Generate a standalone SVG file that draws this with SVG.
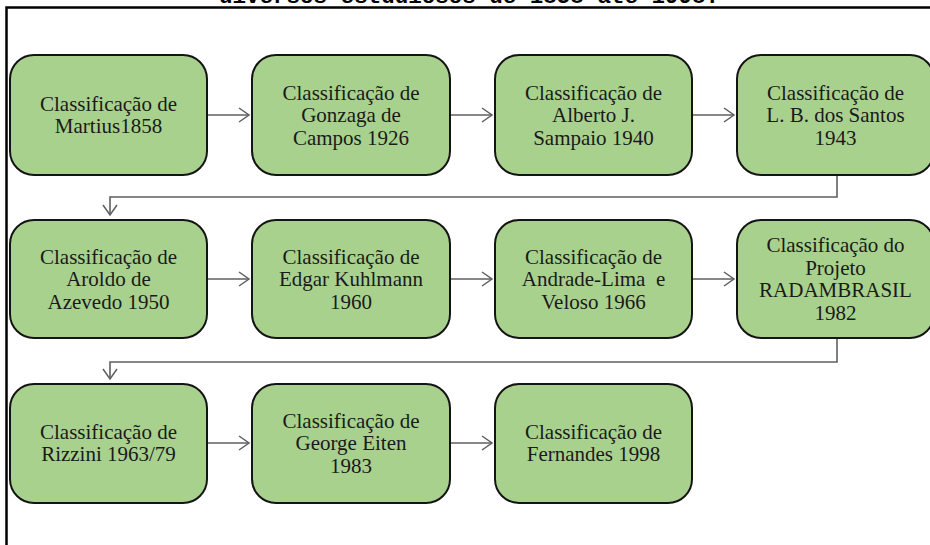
<svg xmlns="http://www.w3.org/2000/svg" width="930" height="545" viewBox="0 0 930 545">
<style>
.box{fill:#A9D18E;stroke:#141414;stroke-width:2}
.lbl{font-family:"Liberation Serif","Times New Roman",serif;font-size:21px;fill:#1a1a1a;text-anchor:middle}
.con{fill:none;stroke:#5f5f5f;stroke-width:1.6}
.title{font-family:"Liberation Mono","Courier New",monospace;font-weight:bold;font-size:22.5px;fill:#000}
</style>
<defs>
<marker id="ah" markerUnits="userSpaceOnUse" markerWidth="14" markerHeight="18" refX="11" refY="8" orient="auto" viewBox="0 0 14 16">
<path d="M1,1 L11,8 L1,15" fill="none" stroke="#5f5f5f" stroke-width="1.5"/>
</marker>
</defs>
<rect width="930" height="545" fill="#fff"/>
<text class="title" x="219" y="2.5" textLength="500">diversos estudiosos de 1858 até 1998.</text>
<path d="M6.5,545 V7.5 H930" fill="none" stroke="#000" stroke-width="2.5"/>

<g id="connectors">
<line class="con" x1="207" y1="115" x2="249" y2="115" marker-end="url(#ah)"/>
<line class="con" x1="450" y1="115" x2="492" y2="115" marker-end="url(#ah)"/>
<line class="con" x1="692" y1="115" x2="734" y2="115" marker-end="url(#ah)"/>
<path class="con" d="M837,175 V197 H110 V215" marker-end="url(#ah)"/>
<line class="con" x1="207" y1="279" x2="249" y2="279" marker-end="url(#ah)"/>
<line class="con" x1="450" y1="279" x2="492" y2="279" marker-end="url(#ah)"/>
<line class="con" x1="692" y1="279" x2="734" y2="279" marker-end="url(#ah)"/>
<path class="con" d="M837,338 V362 H110 V379" marker-end="url(#ah)"/>
<line class="con" x1="207" y1="443" x2="249" y2="443" marker-end="url(#ah)"/>
<line class="con" x1="450" y1="443" x2="492" y2="443" marker-end="url(#ah)"/>
</g>

<g id="n1"><rect class="box" x="10" y="55" width="197" height="120" rx="24"/>
<text class="lbl" x="108.5" y="110.5">Classificação de</text><text class="lbl" x="108.5" y="133">Martius1858</text></g>
<g id="n2"><rect class="box" x="252" y="55" width="198" height="120" rx="24"/>
<text class="lbl" x="351" y="99.5">Classificação de</text><text class="lbl" x="351" y="122">Gonzaga de</text><text class="lbl" x="351" y="144.5">Campos 1926</text></g>
<g id="n3"><rect class="box" x="495" y="55" width="197" height="120" rx="24"/>
<text class="lbl" x="593.5" y="99.5">Classificação de</text><text class="lbl" x="593.5" y="122">Alberto J.</text><text class="lbl" x="593.5" y="144.5">Sampaio 1940</text></g>
<g id="n4"><rect class="box" x="737" y="55" width="197" height="120" rx="24"/>
<text class="lbl" x="835.5" y="99.5">Classificação de</text><text class="lbl" x="835.5" y="122">L. B. dos Santos</text><text class="lbl" x="835.5" y="144.5">1943</text></g>

<g id="n5"><rect class="box" x="10" y="220" width="197" height="118" rx="24"/>
<text class="lbl" x="108.5" y="263.5">Classificação de</text><text class="lbl" x="108.5" y="286">Aroldo de</text><text class="lbl" x="108.5" y="308.5">Azevedo 1950</text></g>
<g id="n6"><rect class="box" x="252" y="220" width="198" height="118" rx="24"/>
<text class="lbl" x="351" y="263.5">Classificação de</text><text class="lbl" x="351" y="286">Edgar Kuhlmann</text><text class="lbl" x="351" y="308.5">1960</text></g>
<g id="n7"><rect class="box" x="495" y="220" width="197" height="118" rx="24"/>
<text class="lbl" x="593.5" y="263.5">Classificação de</text><text class="lbl" x="593.5" y="286" xml:space="preserve">Andrade-Lima  e</text><text class="lbl" x="593.5" y="308.5">Veloso 1966</text></g>
<g id="n8"><rect class="box" x="737" y="220" width="197" height="118" rx="24"/>
<text class="lbl" x="835.5" y="252">Classificação do</text><text class="lbl" x="835.5" y="274.5">Projeto</text><text class="lbl" x="835.5" y="297">RADAMBRASIL</text><text class="lbl" x="835.5" y="319.5">1982</text></g>

<g id="n9"><rect class="box" x="10" y="384" width="197" height="119" rx="24"/>
<text class="lbl" x="108.5" y="438.5">Classificação de</text><text class="lbl" x="108.5" y="461">Rizzini 1963/79</text></g>
<g id="n10"><rect class="box" x="252" y="384" width="198" height="119" rx="24"/>
<text class="lbl" x="351" y="427.5">Classificação de</text><text class="lbl" x="351" y="450">George Eiten</text><text class="lbl" x="351" y="472.5">1983</text></g>
<g id="n11"><rect class="box" x="495" y="384" width="197" height="119" rx="24"/>
<text class="lbl" x="593.5" y="438.5">Classificação de</text><text class="lbl" x="593.5" y="461">Fernandes 1998</text></g>
</svg>
